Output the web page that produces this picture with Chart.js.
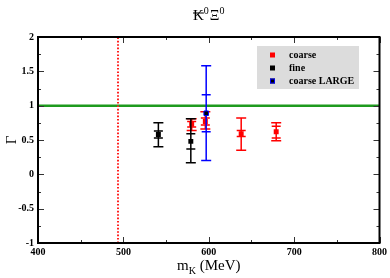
<!DOCTYPE html>
<html lang="en">
<head>
<meta charset="utf-8">
<title>KbarXi Gamma</title>
<script src="https://cdn.jsdelivr.net/npm/chart.js"></script>
<style>
  html, body { margin: 0; padding: 0; background: #fff; }
</style>
</head>
<body>
<canvas id="myChart" width="390" height="278"></canvas>
<script>
// data
const seriesNames = ['coarse', 'fine', 'coarse LARGE'];

const coarseMass    = [580, 596, 638, 679];
const coarseGamma   = [0.73, 0.77, 0.59, 0.62];
const coarseInnerLo = [0.69, 0.72, 0.55, 0.53];
const coarseInnerHi = [0.77, 0.82, 0.64, 0.70];
const coarseOuterLo = [0.64, 0.66, 0.35, 0.49];
const coarseOuterHi = [0.81, 0.91, 0.82, 0.75];

const fineMass    = [541, 579];
const fineGamma   = [0.58, 0.48];
const fineInnerLo = [0.53, 0.37];
const fineInnerHi = [0.63, 0.59];
const fineOuterLo = [0.40, 0.17];
const fineOuterHi = [0.75, 0.81];

const largeMass    = [597];
const largeGamma   = [0.89];
const largeInnerLo = [0.62];
const largeInnerHi = [1.16];
const largeOuterLo = [0.20];
const largeOuterHi = [1.58];

const kaonMass = 493.7;
const unitLine = 1;

const xTicks = [400, 500, 600, 700, 800];
const yTicks = [-1, -0.5, 0, 0.5, 1, 1.5, 2];

function pts(xs, ys) {
  return xs.map((x, i) => ({ x: x, y: ys[i] }));
}

const serif = "'Liberation Serif', 'DejaVu Serif', serif";

const errorBars = {
  id: 'errorBars',
  beforeDatasetDraw(chart, args) {
    const ds = chart.data.datasets[args.index];
    if (!ds.errors) return;
    const xs = chart.scales.x, ys = chart.scales.y;
    const ctx = chart.ctx;
    const e = ds.errors;
    ctx.save();
    ctx.strokeStyle = ds.barColor;
    ctx.lineWidth = 1.5;
    ds.data.forEach((p, i) => {
      const px = xs.getPixelForValue(p.x);
      const lo = ys.getPixelForValue(e.outerLo[i]);
      const hi = ys.getPixelForValue(e.outerHi[i]);
      ctx.beginPath();
      ctx.moveTo(px, lo); ctx.lineTo(px, hi);
      [e.outerLo[i], e.outerHi[i]].forEach(v => {
        const py = ys.getPixelForValue(v);
        ctx.moveTo(px - 5, py); ctx.lineTo(px + 5, py);
      });
      [e.innerLo[i], e.innerHi[i]].forEach(v => {
        const py = ys.getPixelForValue(v);
        ctx.moveTo(px - 4.5, py); ctx.lineTo(px + 4.5, py);
      });
      ctx.stroke();
    });
    ctx.restore();
  }
};

const frameAndText = {
  id: 'frameAndText',
  afterDraw(chart) {
    const ctx = chart.ctx;
    const a = chart.chartArea;
    const xs = chart.scales.x, ys = chart.scales.y;
    ctx.save();

    // inward ticks on all four sides
    ctx.strokeStyle = '#333';
    ctx.lineWidth = 1;
    ctx.beginPath();
    for (let v = 400; v <= 800; v += 50) {
      const px = Math.round(xs.getPixelForValue(v)) + 0.5;
      const len = v % 100 === 0 ? 6 : 3;
      ctx.moveTo(px, a.bottom); ctx.lineTo(px, a.bottom - len);
      ctx.moveTo(px, a.top); ctx.lineTo(px, a.top + len);
    }
    for (let v = -1; v <= 2.001; v += 0.25) {
      const py = Math.round(ys.getPixelForValue(v)) + 0.5;
      const len = Math.abs(v * 2 - Math.round(v * 2)) < 0.01 ? 6 : 3;
      ctx.moveTo(a.left, py); ctx.lineTo(a.left + len, py);
      ctx.moveTo(a.right, py); ctx.lineTo(a.right - len, py);
    }
    ctx.stroke();

    // frame
    ctx.strokeStyle = '#000';
    ctx.lineWidth = 2;
    ctx.strokeRect(a.left, a.top, a.right - a.left, a.bottom - a.top);

    // legend box
    const lx = a.left + 219, ly = a.top + 9;
    ctx.fillStyle = '#dcdcdc';
    ctx.fillRect(lx, ly, 102, 43);
    ctx.font = 'bold 10px ' + serif;
    ctx.textBaseline = 'middle';
    ctx.textAlign = 'left';
    chart.data.datasets.filter(d => d.errors).forEach((d, i) => {
      const ry = ly + 9 + i * 13;
      ctx.fillStyle = d.pointBackgroundColor;
      ctx.fillRect(lx + 13, ry - 2.5, 5, 5);
      if (d.pointBorderColor !== d.pointBackgroundColor) {
        ctx.strokeStyle = d.pointBorderColor;
        ctx.lineWidth = 1;
        ctx.strokeRect(lx + 13.5, ry - 2, 4, 4);
      }
      ctx.fillStyle = '#000';
      ctx.fillText(d.label, lx + 32, ry);
    });

    // title  K-bar^0 Xi^0
    ctx.fillStyle = '#000';
    ctx.textBaseline = 'alphabetic';
    const big = '15px ' + serif, small = '10px ' + serif;
    ctx.font = big; const wK = ctx.measureText('K').width;
    const wX = ctx.measureText('\u039E').width;
    ctx.font = small; const w0 = ctx.measureText('0').width;
    let tx = (a.left + a.right) / 2 - (wK + wX + 2 * w0 + 1) / 2;
    const tb = 20;
    ctx.font = big; ctx.fillText('K', tx, tb);
    ctx.fillRect(tx, 12.5, wK, 1);
    tx += wK;
    ctx.font = small; ctx.fillText('0', tx, tb - 6); tx += w0 + 1;
    ctx.font = big; ctx.fillText('\u039E', tx, tb); tx += wX;
    ctx.font = small; ctx.fillText('0', tx, tb - 6);

    // x axis title  m_K (MeV)
    ctx.font = big; const wm = ctx.measureText('m').width;
    const wr = ctx.measureText(' (MeV)').width;
    ctx.font = small; const wk = ctx.measureText('K').width;
    let mx = (a.left + a.right) / 2 - (wm + wk + wr) / 2;
    const mb = 270;
    ctx.font = big; ctx.fillText('m', mx, mb); mx += wm;
    ctx.font = small; ctx.fillText('K', mx, mb + 4); mx += wk;
    ctx.font = big; ctx.fillText(' (MeV)', mx, mb);

    // y axis title
    ctx.translate(12, (a.top + a.bottom) / 2);
    ctx.rotate(-Math.PI / 2);
    ctx.textAlign = 'center';
    ctx.textBaseline = 'middle';
    ctx.font = big;
    ctx.fillText('\u0393', 0, 0);
    ctx.restore();
  }
};

const ctx = document.getElementById('myChart').getContext('2d');
const myChart = new Chart(ctx, {
  type: 'scatter',
  data: {
    datasets: [
      {
        label: seriesNames[0],
        data: pts(coarseMass, coarseGamma),
        errors: { innerLo: coarseInnerLo, innerHi: coarseInnerHi, outerLo: coarseOuterLo, outerHi: coarseOuterHi },
        barColor: '#ff0000',
        pointStyle: 'rect', pointRadius: 3.5,
        pointBackgroundColor: '#ff0000', pointBorderColor: '#ff0000', pointBorderWidth: 0,
        order: 3
      },
      {
        label: seriesNames[1],
        data: pts(fineMass, fineGamma),
        errors: { innerLo: fineInnerLo, innerHi: fineInnerHi, outerLo: fineOuterLo, outerHi: fineOuterHi },
        barColor: '#000000',
        pointStyle: 'rect', pointRadius: 3.5,
        pointBackgroundColor: '#000000', pointBorderColor: '#000000', pointBorderWidth: 0,
        order: 2
      },
      {
        label: seriesNames[2],
        data: pts(largeMass, largeGamma),
        errors: { innerLo: largeInnerLo, innerHi: largeInnerHi, outerLo: largeOuterLo, outerHi: largeOuterHi },
        barColor: '#0000ff',
        pointStyle: 'rect', pointRadius: 3.2,
        pointBackgroundColor: '#000000', pointBorderColor: '#0000ff', pointBorderWidth: 1,
        order: 1
      },
      {
        label: 'unit',
        data: [{ x: 400, y: unitLine }, { x: 800, y: unitLine }],
        showLine: true, borderColor: '#1e9a1e', borderWidth: 2.5, pointRadius: 0,
        order: 5
      },
      {
        label: 'mK',
        data: [{ x: kaonMass, y: -1 }, { x: kaonMass, y: 2 }],
        showLine: true, borderColor: '#ff2020', borderWidth: 2, borderDash: [1.6, 1.8],
        pointRadius: 0,
        order: 4
      }
    ]
  },
  options: {
    responsive: false,
    animation: false,
    devicePixelRatio: 1,
    layout: { padding: { left: 0, right: 10, top: 37, bottom: 0 } },
    plugins: { legend: { display: false }, tooltip: { enabled: false } },
    scales: {
      x: {
        type: 'linear', min: 400, max: 800,
        afterFit: s => { s.height = 35; },
        afterBuildTicks: s => { s.ticks = xTicks.map(v => ({ value: v })); },
        grid: { display: false, drawTicks: false }, border: { display: false },
        ticks: { color: '#000', padding: 3, maxRotation: 0, callback: v => String(v),
                 font: { family: serif, size: 10, weight: 'bold' } }
      },
      y: {
        type: 'linear', min: -1, max: 2,
        afterFit: s => { s.width = 38; },
        afterBuildTicks: s => { s.ticks = yTicks.map(v => ({ value: v })); },
        grid: { display: false, drawTicks: false }, border: { display: false },
        ticks: { color: '#000', padding: 4, callback: v => String(v),
                 font: { family: serif, size: 10, weight: 'bold' } }
      }
    }
  },
  plugins: [errorBars, frameAndText]
});
</script>
</body>
</html>
